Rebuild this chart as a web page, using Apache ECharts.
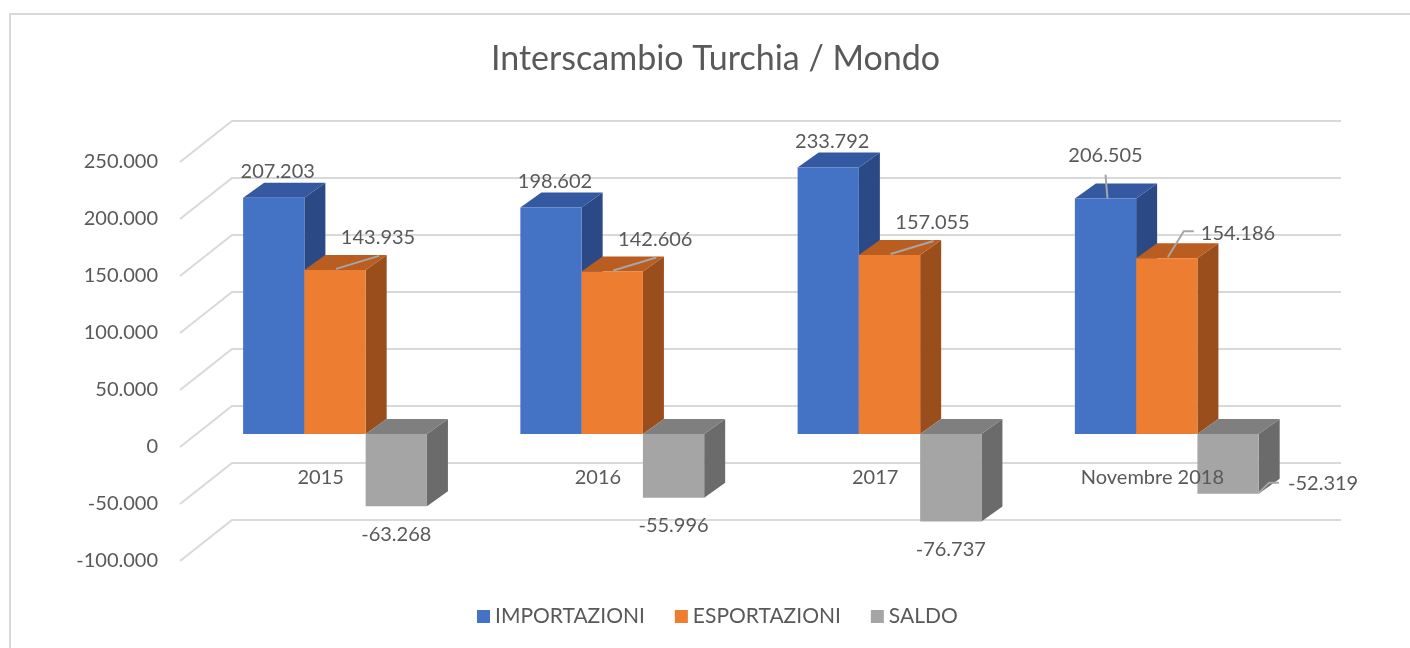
<!DOCTYPE html>
<html>
<head>
<meta charset="utf-8">
<script src="https://cdn.jsdelivr.net/npm/echarts@6/dist/echarts.min.js"></script>
<style>
  html, body { margin: 0; padding: 0; background: #fff; }
  #container { width: 1410px; height: 648px; }
</style>
</head>
<body>
<div id="container"></div>
<script>
const categories = ["2015", "2016", "2017", "Novembre 2018"];
const importazioni = [207203, 198602, 233792, 206505];
const esportazioni = [143935, 142606, 157055, 154186];
const saldo = [-63268, -55996, -76737, -52319];
const yTicks = [-100000, -50000, 0, 50000, 100000, 150000, 200000, 250000];

const mySeries = [
  { name: "IMPORTAZIONI", data: importazioni, front: "#4472C4", top: "#3459A0", side: "#2B4A85" },
  { name: "ESPORTAZIONI", data: esportazioni, front: "#ED7D31", top: "#B95D21", side: "#9A4E1C" },
  { name: "SALDO", data: saldo, front: "#A5A5A5", top: "#7F7F7F", side: "#6B6B6B" },
];

const textColor = "#595959";
const fontFamily = "Lato, 'Open Sans', sans-serif";
const leaderColor = "#A6A6A6";

// back wall offset and bar plane offset (depth of the 3D look)
const wallDx = 52, wallDy = -41;
const planeDx = 16.4, planeDy = -13;
const barDx = 21, barDy = -15;

const fmt = (v) => {
  const s = String(Math.abs(v)).replace(/\B(?=(\d{3})+(?!\d))/g, ".");
  return v < 0 ? "-" + s : s;
};

// where each value label goes, relative to the bar front face
const placeLabel = (s, isLast, cx, top, bottom) => {
  if (s === 0) {
    if (isLast) return { x: cx, y: top - 43, align: "center", line: [[cx + 2, top], [cx, top - 24]] };
    return { x: cx + 4, y: top - 26, align: "center" };
  }
  if (s === 1) {
    if (isLast) return { x: cx + 34, y: top - 25, align: "left", line: [[cx + 1, top - 1], [cx + 17, top - 27], [cx + 27, top - 27]] };
    return { x: cx + 43, y: top - 32, align: "center", line: [[cx + 1, top - 1], [cx + 44, top - 14]] };
  }
  if (isLast) return { x: cx + 60, y: bottom - 10, align: "left", line: [[cx + 31, bottom - 1], [cx + 41, bottom - 11], [cx + 51, bottom - 11]] };
  return { x: cx, y: bottom + 28, align: "center" };
};

const barSeries = (serie, s) => ({
  name: serie.name,
  type: "custom",
  z: 3,
  itemStyle: { color: serie.front },
  data: serie.data.map((v, i) => [i, v]),
  renderItem: (params, api) => {
    const i = api.value(0);
    const v = api.value(1);
    const p0 = api.coord([i, 0]);
    const p1 = api.coord([i, v]);
    const band = api.size([1, 0])[0];
    const bw = band * 0.221;
    const x0 = p0[0] + planeDx - 1.5 * bw + s * bw;
    const x1 = x0 + bw;
    const top = Math.min(p0[1], p1[1]) + planeDy;
    const bottom = Math.max(p0[1], p1[1]) + planeDy;
    const cx = (x0 + x1) / 2;
    const lab = placeLabel(s, i === categories.length - 1, cx, top, bottom);
    const children = [
      { type: "polygon", shape: { points: [[x1, top], [x1 + barDx, top + barDy], [x1 + barDx, bottom + barDy], [x1, bottom]] }, style: { fill: serie.side } },
      { type: "polygon", shape: { points: [[x0, top], [x0 + barDx, top + barDy], [x1 + barDx, top + barDy], [x1, top]] }, style: { fill: serie.top } },
      { type: "rect", shape: { x: x0, y: top, width: bw, height: bottom - top }, style: { fill: serie.front } },
    ];
    if (lab.line) {
      children.push({ type: "polyline", shape: { points: lab.line }, style: { stroke: leaderColor, lineWidth: 2, fill: null } });
    }
    children.push({
      type: "text",
      style: {
        x: lab.x, y: lab.y, text: fmt(v), fill: textColor,
        font: "20px " + fontFamily, align: lab.align, verticalAlign: "middle",
      },
    });
    return { type: "group", children };
  },
});

const wallSeries = {
  type: "custom",
  z: 1,
  silent: true,
  data: yTicks.map((v) => [0, v]),
  renderItem: (params, api) => {
    const cs = params.coordSys;
    const y = api.coord([0, api.value(1)])[1];
    const xl = cs.x;
    const xr = cs.x + cs.width;
    return {
      type: "polyline",
      shape: { points: [[xl, y], [xl + wallDx, y + wallDy], [xr + wallDx, y + wallDy]] },
      style: { stroke: "#D9D9D9", lineWidth: 2, fill: null },
    };
  },
};

// category names sit on the floor at the zero level, above the bars
const categorySeries = {
  type: "custom",
  z: 10,
  silent: true,
  data: categories.map((c, i) => [i, 0]),
  renderItem: (params, api) => {
    const p = api.coord([api.value(0), 0]);
    return {
      type: "text",
      style: {
        x: p[0] + 2, y: p[1] + 31, text: categories[params.dataIndex], fill: textColor,
        font: "20px " + fontFamily, align: "center", verticalAlign: "middle",
      },
    };
  },
};

const dom = document.getElementById("container");
const myChart = echarts.init(dom);

const option = {
  animation: false,
  backgroundColor: "#FFFFFF",
  color: mySeries.map((s) => s.front),
  textStyle: { fontFamily, color: textColor },
  title: {
    text: "Interscambio Turchia / Mondo",
    left: 486,
    top: 37,
    textStyle: { fontSize: 34, fontWeight: "normal", color: textColor, fontFamily },
  },
  graphic: [
    {
      type: "rect",
      shape: { x: 10, y: 14, width: 1420, height: 660 },
      style: { fill: null, stroke: "#D9D9D9", lineWidth: 2 },
      silent: true,
    },
  ],
  legend: {
    bottom: 16,
    left: 472,
    icon: "rect",
    itemWidth: 13,
    itemHeight: 13,
    itemGap: 30,
    data: mySeries.map((s) => s.name),
    textStyle: { fontSize: 21, color: textColor, fontFamily },
  },
  grid: { left: 180, right: 121, top: 162, bottom: 87 },
  xAxis: {
    type: "category",
    data: categories,
    axisLine: { show: false },
    axisTick: { show: false },
    splitLine: { show: false },
    axisLabel: { show: false },
  },
  yAxis: {
    type: "value",
    min: -100000,
    max: 250000,
    interval: 50000,
    axisLine: { show: false },
    axisTick: { show: false },
    splitLine: { show: false },
    axisLabel: { fontSize: 20, color: textColor, margin: 22, fontFamily, formatter: fmt },
  },
  series: [wallSeries, ...mySeries.map(barSeries), categorySeries],
};

myChart.setOption(option);
</script>
</body>
</html>
